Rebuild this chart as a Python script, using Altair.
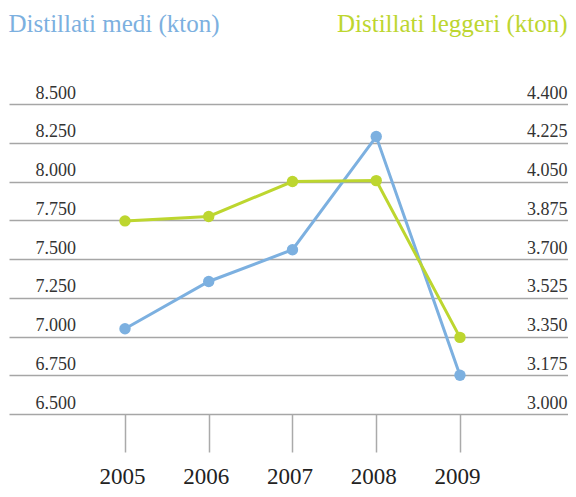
import altair as alt
import pandas as pd

years = [2005, 2006, 2007, 2008, 2009]
medi = [7050, 7355, 7560, 8290, 6750]
leggeri = [3872, 3892, 4050, 4054, 3346]
left_ticks = [6500, 6750, 7000, 7250, 7500, 7750, 8000, 8250, 8500]
right_ticks = [3000, 3175, 3350, 3525, 3700, 3875, 4050, 4225, 4400]

BLUE = "#7cb0e0"
GREEN = "#bdd62f"
FONT = "'Liberation Serif', 'Times New Roman', serif"
LBL = "replace(format(datum.value, ','), ',', '.')"

df = pd.DataFrame({"anno": years, "medi": medi, "leggeri": leggeri})

x = alt.X("anno:Q", scale=alt.Scale(domain=[2005 - 1.385, 2009 + 1.29], nice=False, zero=False),
          axis=alt.Axis(title=None, domain=False, grid=False, ticks=True, values=years,
                        format="d",
                        tickSize=38, tickColor="#aaaaaa", tickWidth=1.5,
                        labelFont=FONT, labelFontSize=23, labelColor="#222222",
                        labelPadding=31, labelBaseline="alphabetic",
                        labelAngle=0, labelOffset=-3, labelFlush=False))

blue = alt.Chart(df).mark_line(
    color=BLUE, strokeWidth=3,
    point=alt.OverlayMarkDef(color=BLUE, filled=True, size=130, opacity=1)
).encode(
    x=x,
    y=alt.Y("medi:Q", scale=alt.Scale(domain=[6500, 8500], nice=False, zero=False),
            axis=alt.Axis(orient="left", values=left_ticks, labelExpr=LBL,
                          domain=False, ticks=False, tickSize=0,
                          grid=True, gridColor="#a6a6a6", gridWidth=1.5,
                          labelAlign="left", labelPadding=-26, labelBaseline="alphabetic",
                          labelOffset=-6, labelFont=FONT, labelFontSize=18,
                          labelColor="#333333",
                          title="Distillati medi (kton)", titleAngle=0,
                          titleAlign="left", titleX=-1, titleY=-73,
                          titleBaseline="alphabetic", titleColor=BLUE,
                          titleFont=FONT, titleFontSize=25, titleFontWeight="normal"))
)

green = alt.Chart(df).mark_line(
    color=GREEN, strokeWidth=3,
    point=alt.OverlayMarkDef(color=GREEN, filled=True, size=130, opacity=1)
).encode(
    x=x,
    y=alt.Y("leggeri:Q", scale=alt.Scale(domain=[3000, 4400], nice=False, zero=False),
            axis=alt.Axis(orient="right", values=right_ticks, labelExpr=LBL,
                          domain=False, ticks=False, tickSize=0, grid=False,
                          labelAlign="right", labelPadding=-1, labelBaseline="alphabetic",
                          labelOffset=-6, labelFont=FONT, labelFontSize=18,
                          labelColor="#333333",
                          title="Distillati leggeri (kton)", titleAngle=0,
                          titleAlign="right", titleX=-1, titleY=-73,
                          titleBaseline="alphabetic", titleColor=GREEN,
                          titleFont=FONT, titleFontSize=25, titleFontWeight="normal"))
)

chart = alt.layer(blue, green).resolve_scale(y="independent").properties(
    width=559, height=310,
    autosize=alt.AutoSizeParams(type="none"),
    padding={"left": 1, "top": 96, "right": 0, "bottom": 75},
    background="white",
).configure_view(stroke=None)

chart.save("out.html", embed_options={"renderer": "svg", "actions": False})
